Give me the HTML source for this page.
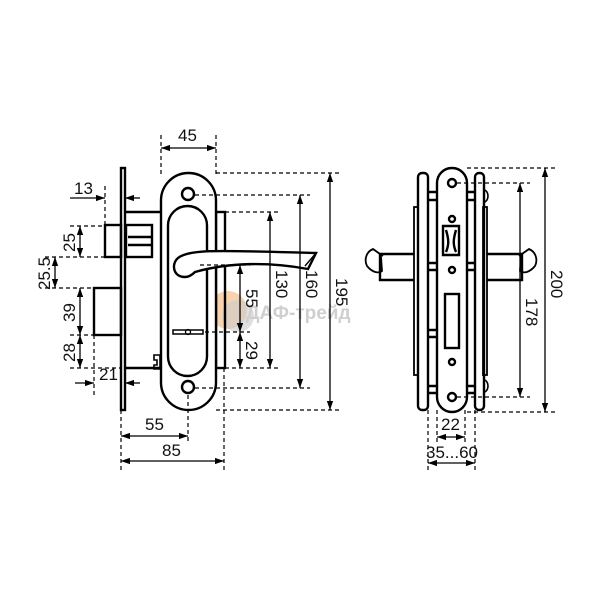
<!DOCTYPE html>
<html><head><style>body{margin:0;background:#fff}svg{display:block}text{font-family:"Liberation Sans","DejaVu Sans",sans-serif;font-size:17px;fill:#111}</style></head>
<body>
<svg width="600" height="600" viewBox="0 0 600 600" xmlns="http://www.w3.org/2000/svg">
<defs>
<marker id="a" viewBox="0 0 10 10" refX="10" refY="5" markerWidth="9" markerHeight="9" orient="auto-start-reverse" markerUnits="userSpaceOnUse"><path d="M0,1.5 L10,5 L0,8.5z" fill="#000"/></marker>
</defs>
<!-- watermark -->
<circle cx="228" cy="310" r="19" fill="#f6c89a" opacity="0.8"/>
<circle cx="238" cy="316" r="16" fill="#ccc" opacity="0.6"/>
<text x="246" y="319" style="font-size:19px;font-weight:bold;fill:#cfcfcf">ДАФ-трейд</text>

<g fill="none" stroke="#000" stroke-width="2.4">
<!-- LEFT VIEW -->
<rect x="121" y="168" width="4" height="242" fill="#fff"/>
<path d="M125 212 H161 M125 368 H161"/>
<rect x="216" y="212" width="9" height="156"/>
<rect x="105" y="225" width="16" height="32"/>
<rect x="126" y="225" width="26" height="32"/>
<path d="M128 237 H152 M128 245 H152"/>
<rect x="94" y="288" width="27" height="47"/>
<path d="M154 355 h6 v14 h-6 v-4 h3 v-5 h-3z" stroke-width="1.6"/>
<rect x="161" y="173" width="55" height="237" rx="27.5" fill="#fff"/>
<rect x="168" y="206" width="39" height="170" rx="19.5"/>
<circle cx="188" cy="194" r="6"/>
<circle cx="188" cy="387" r="6"/>
<path d="M185 277 C173 277 171 264 178 258 C190 248 230 251 316 253 L308 269 C270 262 230 262 195 272 C192 275 189 277 185 277Z" fill="#fff"/>
<path d="M316 253 L305 266" stroke-width="1.4"/>
<rect x="173" y="330" width="30" height="4" stroke-width="1.5" fill="#fff"/>
<circle cx="188" cy="332" r="2.5" stroke-width="1.3"/>

<!-- RIGHT VIEW -->
<rect x="414" y="207" width="4" height="168" stroke-width="1.8"/>
<rect x="483" y="207" width="4" height="168" stroke-width="1.8"/>
<rect x="418" y="173" width="10" height="237" rx="4"/>
<rect x="475" y="173" width="9" height="237" rx="4"/>
<path d="M428 192 H437 M428 200 H437 M428 263 H437 M428 270 H437 M428 330 H437 M428 337 H437 M428 386 H437 M428 393 H437"/>
<path d="M467 192 H475 M467 200 H475 M467 263 H475 M467 270 H475 M467 386 H475 M467 393 H475"/>
<path d="M484 190 a4 6 0 0 1 0 12 M484 380 a4 6 0 0 1 0 12" stroke-width="1.6"/>
<rect x="437" y="168" width="30" height="244" rx="15" fill="#fff"/>
<circle cx="452" cy="183" r="4"/>
<circle cx="452" cy="219" r="3"/>
<circle cx="452" cy="270" r="3"/>
<circle cx="452" cy="362" r="3"/>
<circle cx="452" cy="397" r="4"/>
<path d="M443 226 H459 V255 H443Z M446 230 C449 240 449 245 446 252 M456 230 C453 240 453 245 456 252"/>
<rect x="445" y="294" width="14" height="54"/>
<path d="M414 254 H380 V280 H414"/>
<path d="M380 254 L373 249 C366 252 364 260 367 266 C372 272 378 274 382 271 L381 257Z M373 249 L383 256" stroke-width="1.8"/>
<path d="M487 254 H522 V280 H487"/>
<path d="M522 254 L529 249 C536 252 538 260 535 266 C530 272 524 274 520 271 L521 257Z M529 249 L519 256" stroke-width="1.8"/>
</g>

<g stroke="#000" stroke-width="1.2" stroke-dasharray="4,3" fill="none">
<path d="M161 135 V175 M216 135 V175"/>
<path d="M105 186 V228 M216 173 H340 M195 195 H310 M225 212 H280 M200 265 H250 M205 332 H250 M225 368 H280 M195 388 H310 M216 410 H340"/>
<path d="M45 257 H105 M45 288 H94 M70 226 H105 M70 335 H94 M70 368 H121 M94 335 V395"/>
<path d="M121 410 V470 M188 395 V442 M224 368 V470"/>
<path d="M467 168 H555 M457 183 H530 M457 397 H530 M467 412 H555"/>
<path d="M428 410 V470 M437 410 V445 M465 410 V445 M475 410 V470"/>
</g>

<g stroke="#000" stroke-width="1.3" fill="none" marker-start="url(#a)" marker-end="url(#a)">
<line x1="161" y1="148" x2="216" y2="148"/>
<line x1="330" y1="173" x2="330" y2="410"/>
<line x1="300" y1="195" x2="300" y2="388"/>
<line x1="270" y1="212" x2="270" y2="368"/>
<line x1="240" y1="265" x2="240" y2="332"/>
<line x1="240" y1="332" x2="240" y2="368"/>
<line x1="80" y1="226" x2="80" y2="257"/>
<line x1="55" y1="257" x2="55" y2="288"/>
<line x1="80" y1="288" x2="80" y2="335"/>
<line x1="80" y1="335" x2="80" y2="368"/>
<line x1="121" y1="436" x2="188" y2="436"/>
<line x1="121" y1="461" x2="224" y2="461"/>
<line x1="545" y1="168" x2="545" y2="412"/>
<line x1="520" y1="183" x2="520" y2="397"/>
<line x1="437" y1="437" x2="465" y2="437"/>
<line x1="428" y1="463" x2="475" y2="463"/>
</g>
<g stroke="#000" stroke-width="1.3" fill="none">
<line x1="70" y1="198" x2="105" y2="198" marker-end="url(#a)"/>
<line x1="140" y1="198" x2="125" y2="198" marker-end="url(#a)"/>
<line x1="75" y1="383" x2="94" y2="383" marker-end="url(#a)"/>
<line x1="140" y1="383" x2="125" y2="383" marker-end="url(#a)"/>
</g>

<text x="178" y="141">45</text>
<text x="74" y="194">13</text>
<text x="99" y="380">21</text>
<text x="145" y="430">55</text>
<text x="162" y="456">85</text>
<text x="441" y="430">22</text>
<text x="426" y="458">35...60</text>
<g>
<text transform="translate(336,278) rotate(90)">195</text>
<text transform="translate(306,270) rotate(90)">160</text>
<text transform="translate(276,270) rotate(90)">130</text>
<text transform="translate(246,289) rotate(90)">55</text>
<text transform="translate(246,341) rotate(90)">29</text>
<text transform="translate(551,270) rotate(90)">200</text>
<text transform="translate(526,298) rotate(90)">178</text>
<text transform="translate(75,252) rotate(-90)">25</text>
<text transform="translate(50,290) rotate(-90)">25.5</text>
<text transform="translate(75,322) rotate(-90)">39</text>
<text transform="translate(75,362) rotate(-90)">28</text>
</g>
</svg>
</body></html>
